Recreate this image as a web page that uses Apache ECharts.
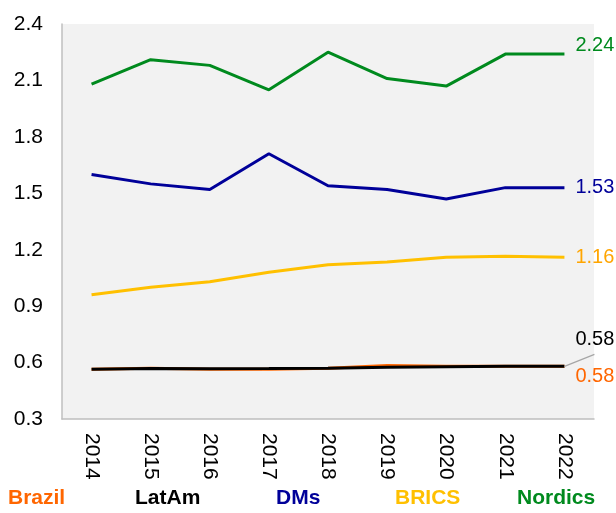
<!DOCTYPE html>
<html>
<head>
<meta charset="utf-8">
<script src="https://cdn.jsdelivr.net/npm/echarts@6/dist/echarts.min.js"></script>
<style>
  html, body { margin: 0; padding: 0; background: #fff; }
  #chart { width: 616px; height: 513px; }
</style>
</head>
<body>
<div id="chart"></div>
<script>
// Yearly values per group
const years = ['2014', '2015', '2016', '2017', '2018', '2019', '2020', '2021', '2022'];
const brazil  = [0.565, 0.570, 0.565, 0.565, 0.570, 0.585, 0.580, 0.580, 0.58];
const latam   = [0.565, 0.568, 0.567, 0.568, 0.570, 0.575, 0.578, 0.580, 0.58];
const dms     = [1.60, 1.55, 1.52, 1.71, 1.54, 1.52, 1.47, 1.53, 1.53];
const brics   = [0.96, 1.00, 1.03, 1.08, 1.12, 1.135, 1.16, 1.165, 1.16];
const nordics = [2.08, 2.21, 2.18, 2.05, 2.25, 2.11, 2.07, 2.24, 2.24];

const yTicks = { min: 0.3, max: 2.4, step: 0.3 };

const FONT = '"Liberation Sans", Arial, sans-serif';

// Only the last point of each line carries a value label
function withEndLabel(values, labelColor, extra) {
  return values.map((v, i) => {
    if (i !== values.length - 1) return v;
    return {
      value: v,
      label: Object.assign({
        show: true,
        position: 'right',
        distance: 11,
        color: labelColor,
        fontSize: 20,
        lineHeight: 22,
        fontFamily: FONT,
        formatter: (p) => p.value.toFixed(2)
      }, extra || {})
    };
  });
}

function lineSeries(name, values, color, labelColor, extra) {
  return {
    name: name,
    type: 'line',
    data: withEndLabel(values, labelColor, extra),
    symbol: 'circle',
    symbolSize: 0,
    showSymbol: true,
    lineStyle: { color: color, width: 3 },
    itemStyle: { color: color },
    emphasis: { disabled: true },
    animation: false
  };
}

// One legend block per group so the names sit evenly along the bottom
const legendItems = [
  { name: 'Brazil', color: '#ff6600', left: -2 },
  { name: 'LatAm', color: '#000000', left: 125 },
  { name: 'DMs', color: '#000099', left: 266 },
  { name: 'BRICS', color: '#ffc000', left: 385 },
  { name: 'Nordics', color: '#008a1e', left: 507 }
];

const chart = echarts.init(document.getElementById('chart'));
chart.setOption({
  backgroundColor: '#ffffff',
  grid: { left: 62, right: 22, top: 24, bottom: 94, show: true, backgroundColor: '#f2f2f2', borderWidth: 0 },
  xAxis: {
    type: 'category',
    data: years,
    boundaryGap: true,
    axisLine: { show: true, lineStyle: { color: '#bfbfbf', width: 1.5 } },
    axisTick: { show: false },
    axisLabel: { rotate: -90, margin: 14, color: '#000', fontSize: 21, fontFamily: FONT }
  },
  yAxis: {
    type: 'value',
    min: yTicks.min,
    max: yTicks.max,
    interval: yTicks.step,
    axisLine: { show: true, lineStyle: { color: '#bfbfbf', width: 1.5 } },
    axisTick: { show: false },
    splitLine: { show: false },
    axisLabel: { margin: 19, color: '#000', fontSize: 21, fontFamily: FONT, formatter: (v) => v.toFixed(1) }
  },
  legend: legendItems.map((it) => ({
    bottom: -1,
    left: it.left,
    itemWidth: 0,
    itemHeight: 0,
    icon: 'rect',
    selectedMode: false,
    textStyle: { fontSize: 21, fontWeight: 'bold', fontFamily: FONT, color: it.color },
    data: [it.name]
  })),
  series: [
    lineSeries('BRICS', brics, '#ffc000', '#ffa500'),
    lineSeries('DMs', dms, '#000099', '#000099'),
    lineSeries('Nordics', nordics, '#008a1e', '#008a1e', { offset: [0, -9] }),
    lineSeries('Brazil', brazil, '#ff6600', '#ff6600', { offset: [0, 10] }),
    lineSeries('LatAm', latam, '#000000', '#000000', { offset: [0, -27] })
  ]
});

// Guide from the last LatAm point up to the underside of its lifted label
const last = latam.length - 1;
const anchor = chart.convertToPixel({ seriesName: 'LatAm' }, [last, latam[last]]);
chart.setOption({
  graphic: [{
    type: 'line',
    silent: true,
    z: 10,
    shape: { x1: anchor[0], y1: anchor[1], x2: anchor[0] + 30, y2: anchor[1] - 12 },
    style: { stroke: '#a6a6a6', lineWidth: 1.2 }
  }]
});
</script>
</body>
</html>
